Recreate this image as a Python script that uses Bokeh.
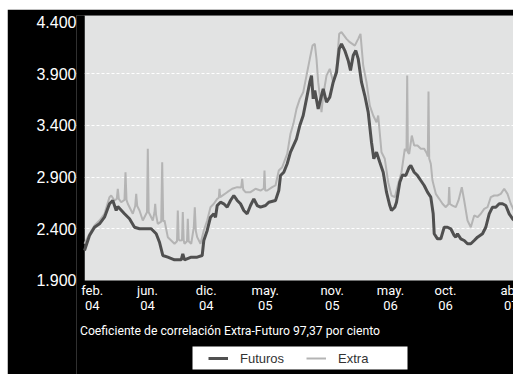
from bokeh.plotting import figure
from bokeh.models import FixedTicker, Legend, LegendItem, Label, BoxAnnotation
from bokeh.embed import file_html
from bokeh.resources import INLINE

# observation index (trading-session position) and price levels
fut_t = [0, 5, 10, 15, 20, 25, 28.3, 31.7, 33.3, 40, 45, 50, 55, 66.7, 71.7, 75, 78.3, 83.3, 90, 96.7,
         98.3, 100, 106.7, 112.7, 117.7, 119.3, 122.7, 126, 129.3, 131, 132.7, 136, 139.3, 142.7, 146,
         149.3, 152.7, 156, 159.3, 162.7, 166, 169.3, 172.7, 176, 181, 184.3, 191, 194.3, 196, 199.3,
         202.7, 206, 212, 215.3, 218.7, 222, 225.3, 227, 228.7, 230.3, 233.7, 237, 238.7, 242, 245.3,
         248.7, 252, 254.7, 257, 260.3, 263.7, 266, 268.7, 271.3, 273.7, 277, 280.3, 283.7, 287, 289.3,
         292, 295.3, 298.7, 302, 305.3, 307, 310.3, 312, 315.3, 318, 321.3, 324.7, 326.3, 329.7, 333,
         336.3, 339.7, 343, 346.3, 348.7, 349.7, 353, 356.3, 359.7, 363, 366.3, 369.7, 371.3, 373, 376.3,
         379.7, 383, 386.3, 389.7, 393, 398, 401.3, 404.7, 408, 411.3, 414.7, 418, 421.3, 424.7, 428, 430]
fut_v = [2190, 2335, 2415, 2448, 2512, 2642, 2674, 2577, 2616, 2545, 2497, 2415, 2400, 2400, 2352, 2270,
         2142, 2126, 2100, 2100, 2158, 2100, 2126, 2126, 2142, 2287, 2384, 2512, 2545, 2512, 2625, 2657,
         2642, 2609, 2674, 2722, 2674, 2642, 2577, 2545, 2625, 2690, 2625, 2609, 2625, 2657, 2674, 2770,
         2915, 2947, 3029, 3141, 3270, 3399, 3496, 3657, 3818, 3882, 3657, 3737, 3560, 3689, 3754, 3624,
         3673, 3818, 3914, 4141, 4189, 4124, 4028, 3931, 4076, 4124, 4044, 3818, 3689, 3528, 3237, 3077,
         3141, 3044, 2947, 2754, 2625, 2577, 2609, 2657, 2851, 2920, 2915, 2996, 3012, 2947, 2915, 2867,
         2819, 2754, 2706, 2545, 2352, 2303, 2303, 2415, 2415, 2400, 2335, 2319, 2352, 2303, 2287, 2255,
         2255, 2287, 2319, 2352, 2415, 2545, 2609, 2609, 2642, 2642, 2625, 2545, 2497, 2480]

ext_t = [0, 5, 10, 15, 20, 25, 26.7, 30, 32.3, 33.3, 34.3, 36.7, 40, 41, 42, 43.3, 48.3, 50.7, 51.7, 52.7,
         55, 58.3, 61.7, 62.5, 63.3, 64.2, 65, 68.3, 70, 70.7, 71.5, 73.3, 76.7, 77.7, 78.7, 80, 83.3,
         86.7, 90, 92.5, 93.3, 94.2, 95, 97.5, 98.3, 99.2, 100, 102.5, 103.3, 104.2, 106.7, 109.3, 110.3,
         111.3, 112.7, 116, 119.3, 122.7, 126, 129.3, 132.7, 134.3, 135, 135.7, 142.7, 147.7, 152.7,
         156.7, 157.7, 158.7, 161, 166, 171, 176, 179.3, 180, 180.7, 182.7, 187.7, 191, 194.3, 197.7,
         202.7, 206, 209, 212, 215.3, 218.7, 222, 225.3, 228, 230.3, 232, 233.7, 235.3, 237, 238.7, 242,
         245.3, 248.7, 252, 254.7, 257, 262, 265.3, 270.3, 273.7, 276, 278.7, 282, 285.3, 288.7, 292,
         293.7, 297, 300.3, 303.7, 307, 310.3, 313.7, 317, 320.3, 321.3, 322, 322.7, 323.4, 324.7, 327.3,
         329.7, 333, 336.3, 339.7, 342.5, 343.3, 344, 344.7, 346.3, 348, 351.3, 354.7, 358, 361.3, 364,
         364.7, 365.4, 368, 371.3, 374, 377.3, 379.7, 383, 386.3, 389.7, 393, 396.3, 399.7, 403, 406.3,
         409.7, 413, 416.3, 419.7, 423, 426.3, 428, 430]
ext_v = [2255, 2352, 2432, 2480, 2545, 2706, 2722, 2674, 2690, 2787, 2690, 2657, 2680, 2947, 2680, 2642,
         2545, 2620, 2738, 2620, 2577, 2480, 2545, 2560, 3174, 2560, 2545, 2480, 2560, 2642, 2540, 2448,
         2470, 3044, 2470, 2480, 2319, 2287, 2255, 2280, 2577, 2300, 2287, 2290, 2561, 2290, 2255, 2280,
         2497, 2280, 2255, 2415, 2609, 2380, 2319, 2255, 2384, 2480, 2609, 2642, 2690, 2700, 2787, 2706,
         2754, 2787, 2803, 2800, 2883, 2780, 2754, 2754, 2787, 2770, 2790, 2964, 2770, 2770, 2803, 2819,
         2964, 2996, 3125, 3319, 3420, 3560, 3657, 3721, 3882, 4044, 4172, 4189, 4044, 3818, 3689, 3528,
         3689, 3882, 3947, 3818, 3947, 4286, 4302, 4237, 4205, 4172, 4237, 4286, 3979, 3818, 3592, 3496,
         3431, 3496, 3141, 3077, 2851, 2722, 2706, 2835, 2947, 3174, 3157, 3157, 3882, 3140, 3125, 3302,
         3205, 3205, 3174, 3174, 3125, 3100, 3727, 3080, 3029, 2867, 2738, 2690, 2642, 2609, 2640, 2803,
         2640, 2625, 2609, 2674, 2803, 2674, 2480, 2415, 2529, 2512, 2545, 2593, 2609, 2706, 2722, 2722,
         2738, 2787, 2738, 2642, 2609, 2561]

x_tick_pos = [7.7, 63, 121.7, 180.7, 247.7, 306, 361, 426.7]
x_tick_labels = ["feb.\n04", "jun.\n04", "dic.\n04", "may.\n05", "nov.\n05", "may.\n06", "oct.\n06", "abr.\n07"]
y_ticks = [1900, 2400, 2900, 3400, 3900, 4400]
y_tick_labels = ["1.900", "2.400", "2.900", "3.400", "3.900", "4.400"]
grid_ticks = [2400, 2900, 3400, 3900]
y_floor = 1900
series_names = ["Futuros", "Extra"]
caption = "Coeficiente de correlación Extra-Futuro 97,37  por ciento"

p = figure(width=506, height=365, margin=(9, 0, 0, 7),
           x_range=(-8, 429), y_range=(990.8, 4463),
           output_backend="svg", toolbar_location=None,
           min_border_left=69, min_border_right=0, min_border_top=6, min_border_bottom=0,
           background_fill_color="black", border_fill_color="black", outline_line_color=None)

# light-grey plotting area (right of the series start, above the 1.900 floor)
p.add_layout(BoxAnnotation(left=0, bottom=y_floor, fill_color="#e2e3e3", fill_alpha=1,
                           line_color=None, level="image"))

p.xgrid.visible = False
p.ygrid.ticker = FixedTicker(ticks=grid_ticks)
p.ygrid.grid_line_color = "white"
p.ygrid.grid_line_dash = "3 2"
p.ygrid.grid_line_width = 1

# keep the black margin left of the series start free of grid lines
p.add_layout(BoxAnnotation(right=0, fill_color="black", fill_alpha=1,
                           line_color=None, level="underlay"))

p.xaxis.visible = False
yax = p.yaxis[0]
yax.axis_line_color = None
yax.major_tick_line_color = None
yax.minor_tick_line_color = None
yax.major_tick_in = 0
yax.major_tick_out = 0
yax.major_label_text_color = "white"
yax.ticker = FixedTicker(ticks=y_ticks)
yax.major_label_overrides = dict(zip(y_ticks, y_tick_labels))
yax.major_label_text_font = "Liberation Sans"
yax.major_label_text_font_size = "16px"
yax.major_label_standoff = 0

# month tick labels under the 1.900 floor
p.text(x=x_tick_pos, y=[y_floor] * len(x_tick_pos), text=x_tick_labels, y_offset=3,
       text_align="center", text_baseline="top", text_color="white",
       text_font={"value": "Roboto"}, text_font_size="13px", text_line_height=1.0)

r_ext = p.line(ext_t, ext_v, line_color="#b4b4b4", line_width=2)
r_fut = p.line(fut_t, fut_v, line_color="#505050", line_width=3)

p.add_layout(Label(x=155, y=44, x_units="screen", y_units="screen", text=caption,
                   text_align="center", text_baseline="middle", text_color="white",
                   text_font_size="12.2px", text_font="Roboto"))

p.add_layout(BoxAnnotation(left=116, right=331, bottom=5, top=28,
                           left_units="screen", right_units="screen",
                           top_units="screen", bottom_units="screen",
                           fill_color="white", fill_alpha=1, line_color=None))

legend = Legend(items=[LegendItem(label=series_names[0], renderers=[r_fut]),
                       LegendItem(label=series_names[1], renderers=[r_ext])],
                orientation="horizontal", location=(132, 8), padding=0, margin=0, spacing=22,
                glyph_width=20, glyph_height=16, label_height=16, label_standoff=12,
                background_fill_alpha=0, border_line_color=None,
                label_text_font_size="13px", label_text_font="Liberation Sans", label_text_color="#333333")
p.add_layout(legend, "center")

open("out.html", "w").write(file_html(p, INLINE))
